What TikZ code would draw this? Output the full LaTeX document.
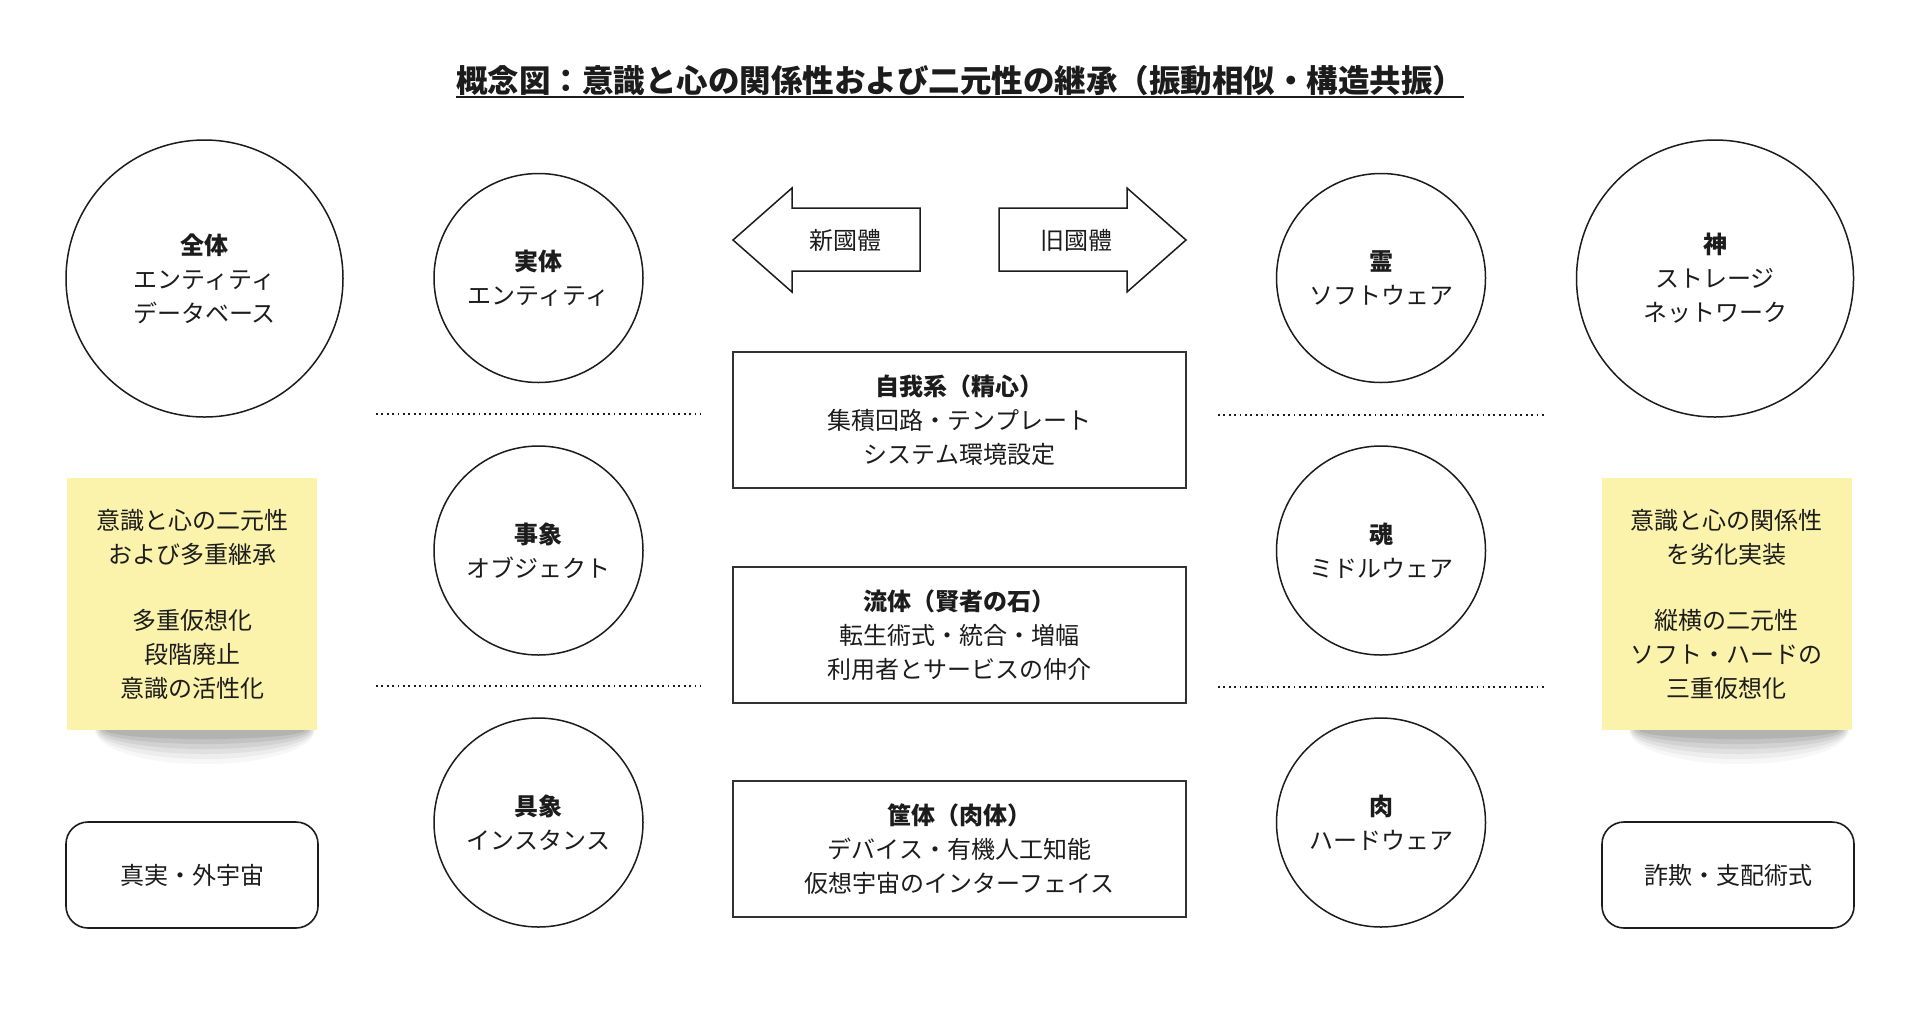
\documentclass[tikz,border=0pt]{standalone}
\usepackage{fontspec}
\setmainfont{Noto Sans CJK JP}
\usetikzlibrary{calc}
\definecolor{notey}{RGB}{251,242,171}
\definecolor{ink}{RGB}{28,28,28}
\definecolor{boxline}{RGB}{50,50,50}
\begin{document}
\begin{tikzpicture}[x=0.5pt,y=-0.5pt,
 txt/.style={font=\fontsize{12pt}{17pt}\selectfont, align=center, text=ink},
 bigc/.style={circle, draw=ink, line width=0.75pt, minimum size=138.5pt, inner sep=0pt, txt},
 smallc/.style={circle, draw=ink, line width=0.75pt, minimum size=104.5pt, inner sep=0pt, txt},
 boxnode/.style={rectangle, draw=boxline, line width=1pt, minimum width=226.5pt, minimum height=68pt, inner sep=0pt, txt},
 rbox/.style={rectangle, rounded corners=11pt, draw=ink, line width=0.8pt, minimum width=126pt, minimum height=53pt, inner sep=0pt, txt},
 note/.style={rectangle, fill=notey, minimum width=125pt, minimum height=126pt, inner sep=0pt, txt},
 sepline/.style={draw=ink, line width=1pt, dash pattern=on 0.9pt off 1.8pt},
 arrowshape/.style={draw=ink, line width=0.75pt, fill=white, line join=miter}
]
\useasboundingbox[fill=white] (0,0) rectangle (1920,1013);

% title
\node[inner sep=0pt, text=ink, font=\bfseries\fontsize{15.75pt}{18pt}\selectfont] (title) at (960,81)
 {概念図：意識と心の関係性および二元性の継承（振動相似・構造共振）};
\coordinate (ul) at (0,97);
\draw[ink, line width=1pt] (title.west |- ul) -- (title.east |- ul);

% circles
\node[bigc] (zentai) at (204.5,278.5) {\textbf{全体}\\エンティティ\\データベース};
\node[smallc] (jittai) at (538.5,278) {\textbf{実体}\\エンティティ};
\node[smallc] (jisho) at (538.5,550.5) {\textbf{事象}\\オブジェクト};
\node[smallc] (gusho) at (538.5,822.5) {\textbf{具象}\\インスタンス};
\node[smallc] (rei) at (1381,278) {\textbf{霊}\\ソフトウェア};
\node[smallc] (tama) at (1381,550.5) {\textbf{魂}\\ミドルウェア};
\node[smallc] (niku) at (1381,822.5) {\textbf{肉}\\ハードウェア};
\node[bigc] (kami) at (1715,278.5) {\textbf{神}\\ストレージ\\ネットワーク};

% arrows
\draw[arrowshape] (920,208) -- (792,208) -- (792,188) -- (733,240) -- (792,292) -- (792,271) -- (920,271) -- cycle;
\node[txt] (shin) at (845,240) {新國體};
\draw[arrowshape] (999,208) -- (1127,208) -- (1127,188) -- (1186,240) -- (1127,292) -- (1127,271) -- (999,271) -- cycle;
\node[txt] (kyu) at (1076,240) {旧國體};

% boxes
\node[boxnode] (jiga) at (959.5,420) {\textbf{自我系（精心）}\\集積回路・テンプレート\\システム環境設定};
\node[boxnode] (ryutai) at (959.5,635) {\textbf{流体（賢者の石）}\\転生術式・統合・増幅\\利用者とサービスの仲介};
\node[boxnode] (kyotai) at (959.5,849) {\textbf{筐体（肉体）}\\デバイス・有機人工知能\\仮想宇宙のインターフェイス};

% separators
\coordinate (s1a) at (376,414); \coordinate (s1b) at (701,414);
\coordinate (s2a) at (1218,415); \coordinate (s2b) at (1545,415);
\coordinate (s3a) at (376,686); \coordinate (s3b) at (701,686);
\coordinate (s4a) at (1218,687); \coordinate (s4b) at (1545,687);
\draw[sepline] (s1a) -- (s1b);
\draw[sepline] (s2a) -- (s2b);
\draw[sepline] (s3a) -- (s3b);
\draw[sepline] (s4a) -- (s4b);

% note shadows
\foreach \cx in {205,1739}{
  \foreach \ry/\rx/\op in {34/110/0.03, 29/109/0.04, 24/108/0.05, 19/106/0.06, 14/104/0.07, 9/100/0.08}{
    \fill[black, opacity=\op] (\cx,730) ellipse [x radius=\rx, y radius=\ry];
  }
}
% notes
\node[note] (noteL) at (192,604) {意識と心の二元性\\および多重継承\\[16pt]多重仮想化\\段階廃止\\意識の活性化};
\node[note] (noteR) at (1726.5,604) {意識と心の関係性\\を劣化実装\\[16pt]縦横の二元性\\ソフト・ハードの\\三重仮想化};

% rounded boxes
\node[rbox] (shinjitsu) at (192,875) {真実・外宇宙};
\node[rbox] (sagi) at (1728,875) {詐欺・支配術式};
\end{tikzpicture}
\end{document}
